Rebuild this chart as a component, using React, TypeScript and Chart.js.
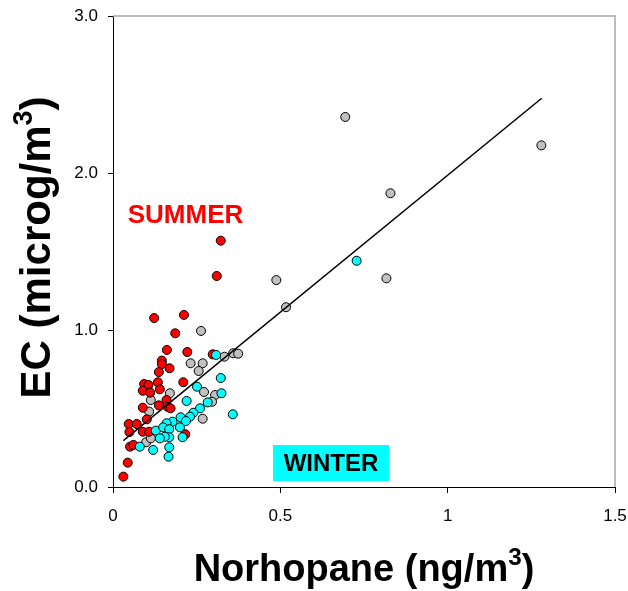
import React, { useEffect, useRef } from 'react';
import { Chart, registerables } from 'chart.js';

Chart.register(...registerables);

// Summer samples (norhopane ng/m3, EC microg/m3)
const summerX = [0.322, 0.310, 0.123, 0.212, 0.186, 0.161, 0.222, 0.146, 0.146, 0.169, 0.137, 0.298, 0.210, 0.093, 0.106, 0.134, 0.089, 0.111, 0.140, 0.160, 0.089, 0.137, 0.163, 0.172, 0.101, 0.047, 0.071, 0.049, 0.089, 0.108, 0.216, 0.051, 0.061, 0.044, 0.031];
const summerY = [1.569, 1.344, 1.076, 1.096, 0.979, 0.873, 0.860, 0.805, 0.783, 0.756, 0.732, 0.845, 0.667, 0.656, 0.650, 0.667, 0.613, 0.601, 0.622, 0.554, 0.505, 0.520, 0.511, 0.501, 0.431, 0.401, 0.401, 0.350, 0.352, 0.352, 0.336, 0.257, 0.268, 0.155, 0.066];

// Other samples
const otherX = [0.694, 1.280, 0.829, 0.817, 0.488, 0.517, 0.263, 0.232, 0.268, 0.256, 0.333, 0.359, 0.374, 0.170, 0.272, 0.305, 0.113, 0.296, 0.108, 0.268, 0.099, 0.113];
const otherY = [2.357, 2.176, 1.871, 1.329, 1.318, 1.145, 0.994, 0.788, 0.788, 0.739, 0.830, 0.852, 0.849, 0.597, 0.605, 0.586, 0.554, 0.543, 0.480, 0.435, 0.285, 0.310];

// Winter samples
const winterX = [0.728, 0.308, 0.322, 0.324, 0.358, 0.251, 0.220, 0.283, 0.260, 0.240, 0.230, 0.202, 0.218, 0.200, 0.178, 0.160, 0.128, 0.150, 0.168, 0.168, 0.155, 0.140, 0.208, 0.080, 0.120, 0.168, 0.166];
const winterY = [1.441, 0.841, 0.694, 0.597, 0.463, 0.639, 0.548, 0.539, 0.501, 0.473, 0.448, 0.444, 0.420, 0.380, 0.416, 0.406, 0.359, 0.380, 0.368, 0.317, 0.320, 0.310, 0.317, 0.257, 0.236, 0.253, 0.193];

// Regression line end points
const fitX = [0.031, 1.281];
const fitY = [0.295, 2.476];

// Axis ticks
const xTicks = [0, 0.5, 1, 1.5];
const xTickLabels = ['0', '0.5', '1', '1.5'];
const yTicks = [0, 1, 2, 3];
const yTickLabels = ['0.0', '1.0', '2.0', '3.0'];

const FONT = '"Liberation Sans", Arial, Helvetica, sans-serif';

const toPoints = (xs: number[], ys: number[]) => xs.map((x, i) => ({ x, y: ys[i] }));

type Seg = { text: string; sup?: boolean };

function drawRich(ctx: CanvasRenderingContext2D, segs: Seg[], size: number) {
  const supSize = size * 0.64;
  const widths = segs.map((s) => {
    ctx.font = `bold ${s.sup ? supSize : size}px ${FONT}`;
    return ctx.measureText(s.text).width;
  });
  const total = widths.reduce((a, b) => a + b, 0);
  let x = -total / 2;
  segs.forEach((s, i) => {
    ctx.font = `bold ${s.sup ? supSize : size}px ${FONT}`;
    ctx.fillText(s.text, x, s.sup ? -size * 0.42 : 0);
    x += widths[i];
  });
}

const decorPlugin = {
  id: 'decor',
  afterDraw(chart: any) {
    const { ctx, chartArea, scales } = chart;
    const xs = scales.x;
    const ys = scales.y;
    ctx.save();

    // top and right frame
    ctx.strokeStyle = '#a8a8a8';
    ctx.lineWidth = 1.5;
    ctx.beginPath();
    ctx.moveTo(chartArea.left, chartArea.top);
    ctx.lineTo(chartArea.right, chartArea.top);
    ctx.lineTo(chartArea.right, chartArea.bottom);
    ctx.stroke();

    // SUMMER label
    ctx.fillStyle = '#ff0000';
    ctx.font = `bold 26px ${FONT}`;
    ctx.textAlign = 'left';
    ctx.textBaseline = 'alphabetic';
    ctx.fillText('SUMMER', xs.getPixelForValue(0.044), ys.getPixelForValue(1.68));

    // WINTER label in a cyan box
    const bx0 = xs.getPixelForValue(0.478);
    const bx1 = xs.getPixelForValue(0.825);
    const by0 = ys.getPixelForValue(0.2675);
    const by1 = ys.getPixelForValue(0.038);
    ctx.fillStyle = '#00ffff';
    ctx.fillRect(bx0, by0, bx1 - bx0, by1 - by0);
    ctx.fillStyle = '#000000';
    ctx.font = `bold 24px ${FONT}`;
    ctx.textAlign = 'center';
    ctx.textBaseline = 'middle';
    ctx.fillText('WINTER', (bx0 + bx1) / 2, (by0 + by1) / 2 + 1);

    // axis titles
    ctx.fillStyle = '#000000';
    ctx.textAlign = 'left';
    ctx.textBaseline = 'alphabetic';
    ctx.save();
    ctx.translate((chartArea.left + chartArea.right) / 2, 581);
    drawRich(ctx, [{ text: 'Norhopane (ng/m' }, { text: '3', sup: true }, { text: ')' }], 38);
    ctx.restore();

    ctx.save();
    ctx.translate(50, (chartArea.top + chartArea.bottom) / 2 - 4);
    ctx.rotate(-Math.PI / 2);
    drawRich(ctx, [{ text: 'EC (microg/m' }, { text: '3', sup: true }, { text: ')' }], 42);
    ctx.restore();

    ctx.restore();
  },
};

export default function App() {
  const canvasRef = useRef<HTMLCanvasElement | null>(null);

  useEffect(() => {
    if (!canvasRef.current) return;
    const pointStyle = (color: string) => ({
      backgroundColor: color,
      borderColor: '#000000',
      borderWidth: 1,
      pointRadius: 4.5,
      showLine: false,
    });
    const chart = new Chart(canvasRef.current, {
      type: 'scatter',
      data: {
        datasets: [
          {
            label: 'fit',
            data: toPoints(fitX, fitY),
            showLine: true,
            borderColor: '#000000',
            borderWidth: 1.5,
            pointRadius: 0,
            order: 0,
          },
          { label: 'Winter', data: toPoints(winterX, winterY), ...pointStyle('#00ffff'), order: 1 },
          { label: 'Summer', data: toPoints(summerX, summerY), ...pointStyle('#ff0000'), order: 2 },
          { label: 'Other', data: toPoints(otherX, otherY), ...pointStyle('#c0c0c0'), order: 3 },
        ],
      },
      options: {
        responsive: false,
        animation: false,
        devicePixelRatio: 1,
        layout: { padding: { top: 16, right: 13, left: 0, bottom: 0 } },
        plugins: { legend: { display: false }, tooltip: { enabled: false } },
        scales: {
          x: {
            type: 'linear',
            min: 0,
            max: 1.5,
            afterBuildTicks: (s: any) => {
              s.ticks = xTicks.map((v) => ({ value: v }));
            },
            afterFit: (s: any) => {
              s.height = 104;
              s.paddingLeft = 0;
              s.paddingRight = 0;
            },
            ticks: {
              autoSkip: false,
              maxRotation: 0,
              padding: 13,
              color: '#000000',
              font: { family: FONT, size: 17 },
              callback: (v: any) => xTickLabels[xTicks.indexOf(Number(v))] ?? '',
            },
            grid: { drawOnChartArea: false, drawTicks: true, tickLength: 6, color: '#000000' },
            border: { display: true, color: '#000000', width: 1 },
          },
          y: {
            type: 'linear',
            min: 0,
            max: 3,
            afterBuildTicks: (s: any) => {
              s.ticks = yTicks.map((v) => ({ value: v }));
            },
            afterFit: (s: any) => {
              s.width = 113;
              s.paddingTop = 0;
              s.paddingBottom = 0;
            },
            ticks: {
              autoSkip: false,
              padding: 10,
              color: '#000000',
              font: { family: FONT, size: 17 },
              callback: (v: any) => yTickLabels[yTicks.indexOf(Number(v))] ?? '',
            },
            grid: { drawOnChartArea: false, drawTicks: true, tickLength: 5, color: '#000000' },
            border: { display: true, color: '#000000', width: 1 },
          },
        },
      },
      plugins: [decorPlugin],
    } as any);
    return () => chart.destroy();
  }, []);

  return (
    <div style={{ position: 'absolute', left: 0, top: 0, width: 628, height: 591, background: '#ffffff' }}>
      <canvas ref={canvasRef} width={628} height={591} style={{ display: 'block' }} />
    </div>
  );
}
